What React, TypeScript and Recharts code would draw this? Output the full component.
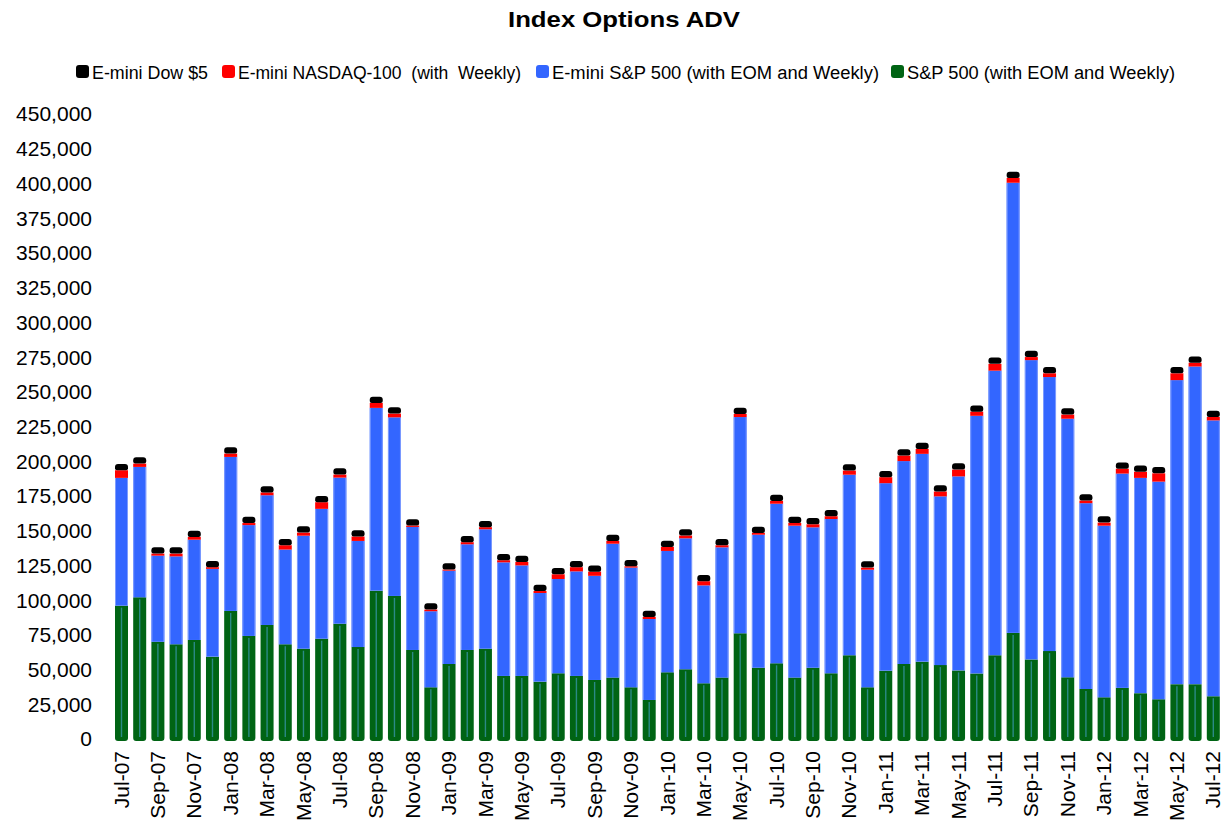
import React from 'react';
import { BarChart, Bar, XAxis, YAxis } from 'recharts';

const months = [
  'Jul-07','Aug-07','Sep-07','Oct-07','Nov-07','Dec-07',
  'Jan-08','Feb-08','Mar-08','Apr-08','May-08','Jun-08','Jul-08','Aug-08','Sep-08','Oct-08','Nov-08','Dec-08',
  'Jan-09','Feb-09','Mar-09','Apr-09','May-09','Jun-09','Jul-09','Aug-09','Sep-09','Oct-09','Nov-09','Dec-09',
  'Jan-10','Feb-10','Mar-10','Apr-10','May-10','Jun-10','Jul-10','Aug-10','Sep-10','Oct-10','Nov-10','Dec-10',
  'Jan-11','Feb-11','Mar-11','Apr-11','May-11','Jun-11','Jul-11','Aug-11','Sep-11','Oct-11','Nov-11','Dec-11',
  'Jan-12','Feb-12','Mar-12','Apr-12','May-12','Jun-12','Jul-12',
];

const sp500 = [
  96000, 102000, 70000, 68200, 71300, 59300,
  92200, 74200, 82100, 68200, 65000, 72200, 83000, 66200, 106800, 103000, 64100, 37200,
  54000, 64100, 65000, 45400, 45400, 41300, 47300, 45400, 42500, 44200, 37200, 28100,
  48000, 50200, 40100, 44200, 76100, 51300, 54500, 44200, 51300, 47300, 60300, 37200,
  49200, 54000, 55700, 53200, 49400, 47200, 60300, 76400, 57300, 63300, 44400, 36000,
  30000, 36800, 33000, 28600, 39500, 39500, 30800,
];

const eminiSp = [
  92000, 93900, 62000, 63300, 72200, 63200,
  110900, 79800, 93400, 68200, 81400, 93500, 105200, 76400, 131600, 128600, 88600, 54800,
  67200, 76100, 86000, 81800, 79600, 63800, 67900, 75300, 75000, 96400, 86200, 58300,
  87400, 94300, 70500, 93800, 155700, 95800, 114900, 109400, 101100, 111100, 130000, 84700,
  135000, 146100, 149600, 121500, 139700, 185500, 204900, 324100, 215500, 197300, 186200, 133800,
  123600, 154300, 155000, 156700, 218900, 228700, 198600,
];

const eminiNdx = [
  5500, 2400, 1500, 2000, 2000, 1200,
  2400, 1500, 2000, 3100, 2200, 4800, 2200, 3200, 3600, 2700, 1000, 1200,
  800, 1500, 1500, 1500, 2500, 1500, 3400, 3000, 3000, 2000, 1000, 1500,
  2900, 2000, 3000, 1500, 2200, 1300, 2000, 2000, 2200, 2000, 3000, 1500,
  4300, 4000, 3500, 3500, 4900, 3000, 4900, 3500, 2200, 2700, 3000, 1900,
  2200, 3500, 4400, 6000, 4900, 2700, 2500,
];

const eminiDow = [
  4500, 4500, 4500, 4500, 4500, 4500,
  4500, 4500, 4500, 4500, 4500, 4500, 4500, 4500, 4500, 4500, 4500, 4500,
  4500, 4500, 4500, 4500, 4500, 4500, 4500, 4500, 4500, 4500, 4500, 4500,
  4500, 4500, 4500, 4500, 4500, 4500, 4500, 4500, 4500, 4500, 4500, 4500,
  4500, 4500, 4500, 4500, 4500, 4500, 4500, 4500, 4500, 4500, 4500, 4500,
  4500, 4500, 4500, 4500, 4500, 4500, 4500,
];

const yTicks = [0, 25000, 50000, 75000, 100000, 125000, 150000, 175000, 200000, 225000, 250000, 275000, 300000, 325000, 350000, 375000, 400000, 425000, 450000];

const legendItems = [
  { label: 'E-mini Dow $5', color: '#000000' },
  { label: 'E-mini NASDAQ-100  (with  Weekly)', color: '#FF0000' },
  { label: 'E-mini S&P 500 (with EOM and Weekly)', color: '#3366FF' },
  { label: 'S&P 500 (with EOM and Weekly)', color: '#006414' },
];

const data = months.map((m, i) => ({
  month: m,
  sp: sp500[i],
  esp: eminiSp[i],
  ndx: eminiNdx[i],
  dow: eminiDow[i],
}));

const FONT = '"Liberation Sans", Arial, Helvetica, sans-serif';

const GreenShape = (props: any) => {
  const { x, y, width, height } = props;
  if (!height || height <= 0) return null;
  const r = 3;
  const b = y + height + 2;
  const path = `M${x},${y} L${x + width},${y} L${x + width},${b - r} Q${x + width},${b} ${x + width - r},${b} L${x + r},${b} Q${x},${b} ${x},${b - r} Z`;
  const cx = x + width / 2;
  return (
    <g>
      <path d={path} fill="#006414" />
      <line x1={cx} y1={y + 2} x2={cx} y2={b - 4} stroke="#2B8A86" strokeWidth={1.4} />
    </g>
  );
};

const BlueShape = (props: any) => {
  const { x, y, width, height } = props;
  if (!height || height <= 0) return null;
  return (
    <g>
      <rect x={x} y={y} width={width} height={height} fill="#3366FF" />
      <line x1={x + 0.5} y1={y} x2={x + 0.5} y2={y + height} stroke="#7E9CFF" strokeWidth={1} />
      <line x1={x + width - 0.5} y1={y} x2={x + width - 0.5} y2={y + height} stroke="#7E9CFF" strokeWidth={1} />
    </g>
  );
};

const XTick = (props: any) => {
  const { x, payload } = props;
  const tx = x + 7.5;
  const ty = 751;
  return (
    <text x={tx} y={ty} transform={`rotate(-90, ${tx}, ${ty})`} textAnchor="end" fontFamily={FONT} fontSize={21} fill="#000">
      {payload.value}
    </text>
  );
};

const YTick = (props: any) => {
  const { y, payload } = props;
  return (
    <text x={92} y={y} dy="0.357em" textAnchor="end" fontFamily={FONT} fontSize={21} fill="#000">
      {Number(payload.value).toLocaleString('en-US')}
    </text>
  );
};

const legendX = [76, 222, 536, 891];
const legendW = [116, 283, 327, 268];

export default function App() {
  return (
    <div style={{ position: 'absolute', left: 0, top: 0, width: 1228, height: 835, background: '#fff' }}>
      <svg width={1228} height={100} style={{ position: 'absolute', left: 0, top: 0 }}>
        <text x={624} y={27} textAnchor="middle" fontFamily={FONT} fontWeight="bold" fontSize={22} textLength={232} lengthAdjust="spacingAndGlyphs" fill="#000">
          Index Options ADV
        </text>
        {legendItems.map((it, i) => (
          <g key={it.label}>
            <rect x={legendX[i]} y={65} width={13} height={13} rx={3} fill={it.color} />
            <text x={legendX[i] + 16} y={79} fontFamily={FONT} fontSize={18} fill="#000" textLength={legendW[i]} lengthAdjust="spacingAndGlyphs" style={{ whiteSpace: 'pre' }}>
              {it.label}
            </text>
          </g>
        ))}
      </svg>
      <div style={{ position: 'absolute', left: 0, top: 0 }}>
        <BarChart width={1228} height={835} data={data} margin={{ top: 114, right: 6, bottom: 6, left: 0 }} barSize={13}>
          <XAxis dataKey="month" interval={1} tick={<XTick />} tickLine={false} axisLine={false} height={90} />
          <YAxis domain={[0, 450000]} ticks={yTicks} tick={<YTick />} tickLine={false} axisLine={false} width={112} interval={0} />
          <Bar dataKey="sp" stackId="a" fill="#006414" shape={GreenShape} isAnimationActive={false} />
          <Bar dataKey="esp" stackId="a" fill="#3366FF" shape={BlueShape} isAnimationActive={false} />
          <Bar dataKey="ndx" stackId="a" fill="#FF0000" isAnimationActive={false} />
          <Bar dataKey="dow" stackId="a" fill="#000000" radius={[3, 3, 2, 2]} isAnimationActive={false} />
        </BarChart>
      </div>
    </div>
  );
}
